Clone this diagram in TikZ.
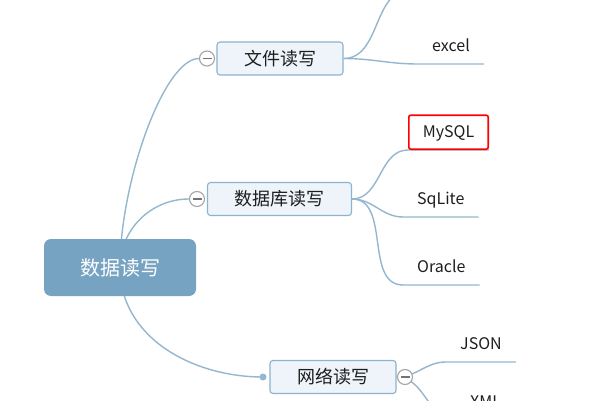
\documentclass[tikz,border=0pt]{standalone}
\usepackage{fontspec}
\setmainfont{Noto Sans CJK SC}
\usetikzlibrary{backgrounds}

\definecolor{linkblue}{HTML}{94B7CF}
\definecolor{rootblue}{HTML}{76A3C2}
\definecolor{boxfill}{HTML}{EEF4F9}
\definecolor{boxline}{HTML}{8DB3CD}
\definecolor{knobgray}{HTML}{A5A5A5}
\definecolor{inkgray}{HTML}{1E1E1E}

\begin{document}
\begin{tikzpicture}[x=1pt, y=1pt,
  link/.style={linkblue, line width=1.4pt},
  rootbox/.style={rounded corners=7pt, fill=rootblue, text=white, minimum width=152pt, minimum height=57pt, font=\fontsize{20}{24}\selectfont},
  subbox/.style={rounded corners=3pt, draw=boxline, fill=boxfill, line width=1.1pt, text=inkgray, inner xsep=27pt, minimum height=33pt, font=\fontsize{18}{21}\selectfont},
  leaf/.style={anchor=south west, text=inkgray, inner xsep=14pt, inner ysep=7pt, text height=15pt, text depth=5pt, font=\fontsize{16}{19}\selectfont},
  picked/.style={draw=red, line width=1.6pt, rounded corners=2pt},
  knob/.style={circle, draw=knobgray, fill=white, line width=1.1pt, minimum size=15pt, inner sep=0pt,
    path picture={\draw[knobgray!70!black, line width=1.1pt] ([xshift=3pt]path picture bounding box.west) -- ([xshift=-3pt]path picture bounding box.east);}},
  dot/.style={circle, fill=linkblue, minimum size=7pt, inner sep=0pt}]
  \useasboundingbox (0,0) rectangle (600,400);

  % topics
  \node[rootbox] (root) at (120,132.5) {数据读写};
  \node[subbox] (file) at (280,341.5) {文件读写};
  \node[subbox] (db) at (279.5,201) {数据库读写};
  \node[subbox] (net) at (333,23) {网络读写};

  % leaves, anchored at the start of their underline
  \node[leaf, picked] (mysql) at (408,250) {MySQL};
  \foreach \nm/\px/\py/\lab in {excel/418/336/excel, sqlite/403/183/SqLite, oracle/403/115/Oracle, json/446/38/JSON, xml/456/-20/XML}{
    \node[leaf] (\nm) at (\px,\py) {\lab};
  }
  \coordinate (ftop) at (410,410);

  % collapse knobs and the dot
  \foreach \nm/\px/\py in {fcirc/207/341.5, dcirc/197/201, ncirc/405/23}{
    \node[knob] (\nm) at (\px,\py) {};
  }
  \node[dot] (ndot) at (263,23) {};

  \begin{scope}[on background layer]
    \fill[white] (0,0) rectangle (600,400);
    \draw[link] (root.center) to[out=90, in=180, out distance=85pt, in distance=35pt] (fcirc.west);
    \draw[link] (root.center) to[out=90, in=180] (dcirc.west);
    \draw[link] (root.center) to[out=-90, in=180] (ndot.center);
    \draw[link] (file.east) to[out=0, in=180] (ftop);
    \foreach \from/\to in {file/excel, db/mysql, db/sqlite, db/oracle, net/json, net/xml}{
      \draw[link] (\from.east) to[out=0, in=180] (\to.south west) -- (\to.south east);
    }
  \end{scope}
\end{tikzpicture}
\end{document}
